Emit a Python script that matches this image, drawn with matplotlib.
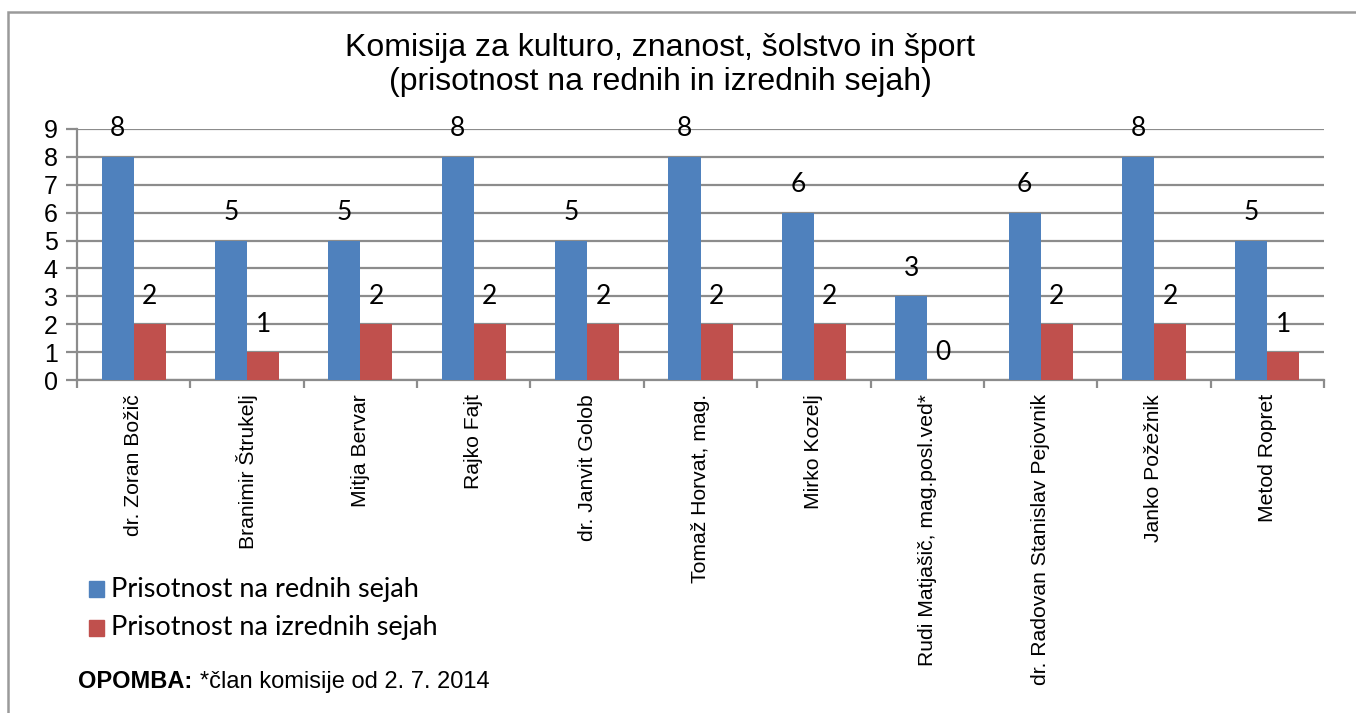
import matplotlib.pyplot as plt
from matplotlib.patches import Rectangle
import numpy as np

# =========================================
# Data
# =========================================

members = [
    "dr. Zoran Božič",
    "Branimir Štrukelj",
    "Mitja Bervar",
    "Rajko Fajt",
    "dr. Janvit Golob",
    "Tomaž Horvat, mag.",
    "Mirko Kozelj",
    "Rudi Matjašič, mag.posl.ved*",
    "dr. Radovan Stanislav Pejovnik",
    "Janko Požežnik",
    "Metod Ropret",
]
regular = [8, 5, 5, 8, 5, 8, 6, 3, 6, 8, 5]
extra = [2, 1, 2, 2, 2, 2, 2, 0, 2, 2, 1]

series_names = ["Prisotnost na rednih sejah", "Prisotnost na izrednih sejah"]
colors = ["#4F81BD", "#C0504D"]

title = "Komisija za kulturo, znanost, šolstvo in šport\n(prisotnost na rednih in izrednih sejah)"

W, H = 1356, 713

fig = plt.figure(figsize=(W / 100, H / 100), dpi=100)

# outer chart border
fig.patches.append(Rectangle((8 / W, -0.01), 1.02, 1 - 12 / H + 0.01,
                             transform=fig.transFigure, fill=False,
                             edgecolor="#9a9a9a", linewidth=1.8))

ax = fig.add_axes([77 / W, 1 - 380 / H, (1324 - 77) / W, (380 - 129) / H])

x = np.arange(len(members))
bw = 0.283
ax.bar(x - bw / 2, regular, bw, color=colors[0], zorder=3)
ax.bar(x + bw / 2, extra, bw, color=colors[1], zorder=3)

for xi, v in zip(x, regular):
    ax.annotate(str(v), (xi - bw / 2, v), xytext=(0, 28), textcoords="offset pixels",
                ha="center", va="center", fontsize=19, family="Lato")
for xi, v in zip(x, extra):
    ax.annotate(str(v), (xi + bw / 2, v), xytext=(0, 28), textcoords="offset pixels",
                ha="center", va="center", fontsize=19, family="Lato")

ax.set_xlim(-0.5, len(members) - 0.5)
ax.set_ylim(0, 9)
ax.set_yticks(range(10))
ax.set_yticklabels([str(i) for i in range(10)], fontsize=18, family="Liberation Sans")
ax.yaxis.grid(True, color="#8c8c8c", linewidth=1.6, zorder=0)

ax.set_xticks(x)
ax.set_xticklabels(members, rotation=90, va="top", ha="center",
                   fontsize=15.2, family="Liberation Sans")
ax.set_xticks(np.arange(len(members) + 1) - 0.5, minor=True)
ax.tick_params(axis="x", which="major", length=0, pad=10)
ax.tick_params(axis="x", which="minor", length=6, width=1.6, color="#8c8c8c")
ax.tick_params(axis="y", length=8, width=1.6, color="#8c8c8c", pad=6)

for side in ["top", "right"]:
    ax.spines[side].set_visible(False)
for side in ["left", "bottom"]:
    ax.spines[side].set_color("#8c8c8c")
    ax.spines[side].set_linewidth(1.6)

fig.text(660 / W, 1 - 65 / H, title, ha="center", va="center",
         fontsize=23, family="Liberation Sans", linespacing=1.15)

# legend drawn as patches + text in the lower left
for i, (name, c) in enumerate(zip(series_names, colors)):
    yc = 1 - (589 + 39 * i) / H
    fig.patches.append(Rectangle((89 / W, yc - 8 / H), 15 / W, 16 / H,
                                 transform=fig.transFigure, color=c))
    fig.text(111 / W, yc, name, ha="left", va="center", fontsize=19.5, family="Lato")

fig.text(78 / W, 1 - 682 / H, "OPOMBA:", ha="left", va="center",
         fontsize=17, fontweight="bold", family="Liberation Sans")
fig.text(200 / W, 1 - 682 / H, "*član komisije od 2. 7. 2014", ha="left", va="center",
         fontsize=17, family="Liberation Sans")

fig.savefig("out.png", dpi=100)
